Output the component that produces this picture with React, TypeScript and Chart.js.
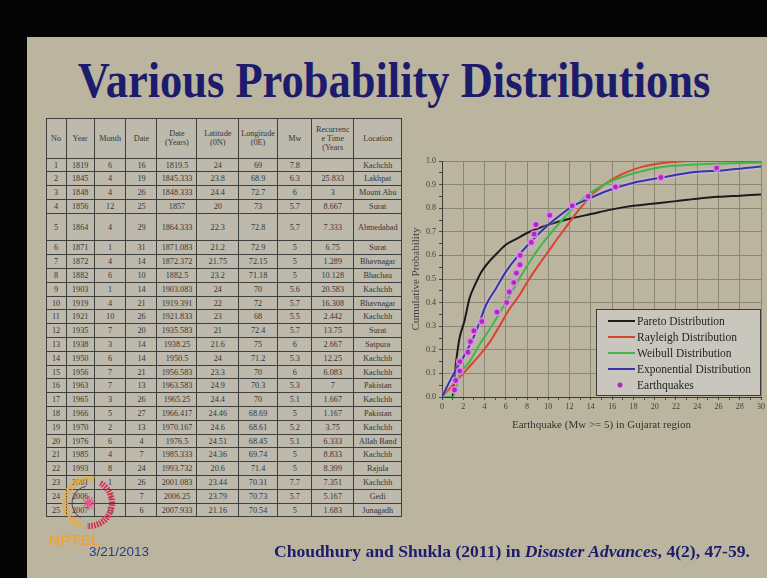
import React, { useEffect, useRef } from "react";
import { Chart, registerables } from "chart.js";

Chart.register(...registerables);

// ---------- chart data ----------
const paretoX = [1.0, 1.2, 1.4, 1.65, 2.1, 2.6, 3.05, 3.7, 4.45, 5.2, 6, 7, 8, 10, 12, 14, 16, 18, 20, 22, 24, 26, 28, 30];
const paretoY = [0.0, 0.1, 0.175, 0.25, 0.32, 0.42, 0.47, 0.53, 0.575, 0.61, 0.645, 0.67, 0.695, 0.73, 0.755, 0.775, 0.795, 0.81, 0.82, 0.83, 0.84, 0.848, 0.853, 0.858];

const rayleighX = [0, 1, 2, 2.9, 3.83, 4.6, 5.4, 6.3, 7.26, 8.2, 9.1, 10.06, 11, 11.9, 13, 14.4, 16.3, 18.8, 21.9, 24, 27, 30];
const rayleighY = [0.0, 0.05, 0.1, 0.145, 0.193, 0.24, 0.3, 0.37, 0.43, 0.5, 0.56, 0.62, 0.68, 0.735, 0.8, 0.87, 0.93, 0.975, 0.997, 1.0, 1.0, 1.0];

const weibullX = [0, 1.0, 1.65, 2.6, 3.5, 4.45, 5.4, 6.3, 7.26, 8.2, 9.1, 10.06, 11.3, 12.55, 13.8, 15.7, 18.2, 20.65, 23.8, 27, 30];
const weibullY = [0.0, 0.0, 0.094, 0.15, 0.22, 0.285, 0.355, 0.425, 0.5, 0.57, 0.63, 0.685, 0.75, 0.81, 0.86, 0.91, 0.95, 0.975, 0.985, 0.99, 0.993];

const exponentialX = [0, 0.72, 1.5, 2.27, 3.2, 4.14, 5.08, 6, 6.95, 8.2, 9.44, 10.7, 12.2, 13.8, 15.7, 18.2, 20.65, 23.8, 26.3, 30];
const exponentialY = [0.0, 0.066, 0.13, 0.19, 0.277, 0.39, 0.46, 0.53, 0.587, 0.65, 0.707, 0.756, 0.806, 0.84, 0.876, 0.91, 0.93, 0.953, 0.96, 0.977];

const quakeX = [1.17, 1.29, 1.67, 1.68, 2.44, 2.67, 3.0, 3.75, 5.17, 6.08, 6.33, 6.75, 7.0, 7.33, 7.35, 8.4, 8.67, 8.83, 10.13, 12.25, 13.75, 16.31, 20.58, 25.83];
const quakeY = [0.03, 0.07, 0.11, 0.15, 0.19, 0.235, 0.28, 0.32, 0.36, 0.4, 0.445, 0.485, 0.525, 0.56, 0.6, 0.655, 0.69, 0.73, 0.77, 0.81, 0.85, 0.89, 0.93, 0.97];

const seriesLabels = ["Pareto Distribution", "Rayleigh Distribution", "Weibull Distribution", "Exponential Distribution", "Earthquakes"];
const seriesColors = ["#1b1b1b", "#d8452f", "#3fb84a", "#3a33a6", "#a82cc0"];

// ---------- table data ----------
const tableHeaders = ["No", "Year", "Month", "Date", "Date\n(Years)", "Latitude\n(0N)", "Longitude\n(0E)", "Mw", "Recurrenc\ne Time\n(Years", "Location"];
const years = [1819, 1845, 1848, 1856, 1864, 1871, 1872, 1882, 1903, 1919, 1921, 1935, 1938, 1950, 1956, 1963, 1965, 1966, 1970, 1976, 1985, 1993, 2001, 2006, 2007];
const months = [6, 4, 4, 12, 4, 1, 4, 6, 1, 4, 10, 7, 3, 6, 7, 7, 3, 5, 2, 6, 4, 8, 1, 3, 11];
const days = [16, 19, 26, 25, 29, 31, 14, 10, 14, 21, 26, 20, 14, 14, 21, 13, 26, 27, 13, 4, 7, 24, 26, 7, 6];
const dateYears = ["1819.5", "1845.333", "1848.333", "1857", "1864.333", "1871.083", "1872.372", "1882.5", "1903.083", "1919.391", "1921.833", "1935.583", "1938.25", "1950.5", "1956.583", "1963.583", "1965.25", "1966.417", "1970.167", "1976.5", "1985.333", "1993.732", "2001.083", "2006.25", "2007.933"];
const latitudes = ["24", "23.8", "24.4", "20", "22.3", "21.2", "21.75", "23.2", "24", "22", "23", "21", "21.6", "24", "23.3", "24.9", "24.4", "24.46", "24.6", "24.51", "24.36", "20.6", "23.44", "23.79", "21.16"];
const longitudes = ["69", "68.9", "72.7", "73", "72.8", "72.9", "72.15", "71.18", "70", "72", "68", "72.4", "75", "71.2", "70", "70.3", "70", "68.69", "68.61", "68.45", "69.74", "71.4", "70.31", "70.73", "70.54"];
const magnitudes = ["7.8", "6.3", "6", "5.7", "5.7", "5", "5", "5", "5.6", "5.7", "5.5", "5.7", "6", "5.3", "6", "5.3", "5.1", "5", "5.2", "5.1", "5", "5", "7.7", "5.7", "5"];
const recurrence = ["", "25.833", "3", "8.667", "7.333", "6.75", "1.289", "10.128", "20.583", "16.308", "2.442", "13.75", "2.667", "12.25", "6.083", "7", "1.667", "1.167", "3.75", "6.333", "8.833", "8.399", "7.351", "5.167", "1.683"];
const locations = ["Kachchh", "Lakhpat", "Mount Abu", "Surat", "Ahmedabad", "Surat", "Bhavnagar", "Bhachau", "Kachchh", "Bhavnagar", "Kachchh", "Surat", "Satpura", "Kachchh", "Kachchh", "Pakistan", "Kachchh", "Pakistan", "Kachchh", "Allah Band", "Kachchh", "Rajula", "Kachchh", "Gedi", "Junagadh"];

const colWidths = [20, 28.3, 31.7, 31, 40, 41.6, 39, 34.4, 41.6, 48.4];

const GRID = "#8c8679";
const SERIF = '"Liberation Serif", "Times New Roman", serif';

const boxLegend = {
  id: "boxLegend",
  beforeDatasetDraw(chart: any, args: any) {
    if (args.index === 3) {
      chart.ctx.save();
      chart.ctx.shadowColor = "rgba(215,205,255,0.95)";
      chart.ctx.shadowBlur = 3;
    }
  },
  afterDatasetDraw(chart: any, args: any) {
    if (args.index === 3) chart.ctx.restore();
  },
  afterDatasetsDraw(chart: any) {
    const { ctx, chartArea } = chart;
    const w = 165;
    const h = 87;
    const x = chartArea.right - w;
    const y = chartArea.bottom - h - 1;
    ctx.save();
    ctx.fillStyle = "#c9c6bd";
    ctx.fillRect(x, y, w, h);
    ctx.strokeStyle = "#3a3a3a";
    ctx.lineWidth = 1;
    ctx.strokeRect(x + 0.5, y + 0.5, w - 1, h - 1);
    ctx.font = "11.5px " + SERIF;
    ctx.textBaseline = "middle";
    chart.data.datasets.forEach((ds: any, i: number) => {
      const cy = y + 12 + i * 16;
      if (ds.showLine === false) {
        ctx.beginPath();
        ctx.arc(x + 24, cy, 2.5, 0, Math.PI * 2);
        ctx.fillStyle = ds.pointBackgroundColor;
        ctx.fill();
      } else {
        ctx.beginPath();
        ctx.moveTo(x + 12, cy);
        ctx.lineTo(x + 39, cy);
        ctx.strokeStyle = ds.borderColor;
        ctx.lineWidth = 2;
        ctx.stroke();
      }
      ctx.fillStyle = "#242424";
      ctx.fillText(ds.label, x + 41, cy + 0.5);
    });
    ctx.restore();
  },
};

function ProbChart() {
  const ref = useRef<HTMLCanvasElement>(null);
  useEffect(() => {
    const pts = (xs: number[], ys: number[]) => xs.map((x, i) => ({ x, y: ys[i] }));
    const lineDs = (i: number, xs: number[], ys: number[], order: number) => ({
      label: seriesLabels[i],
      data: pts(xs, ys),
      borderColor: seriesColors[i],
      backgroundColor: seriesColors[i],
      borderWidth: 2,
      pointRadius: 0,
      cubicInterpolationMode: "monotone",
      order,
    });
    const chart = new Chart(ref.current as HTMLCanvasElement, {
      type: "line",
      data: {
        datasets: [
          lineDs(0, paretoX, paretoY, 4),
          lineDs(1, rayleighX, rayleighY, 3),
          lineDs(2, weibullX, weibullY, 2),
          lineDs(3, exponentialX, exponentialY, 1),
          {
            label: seriesLabels[4],
            data: pts(quakeX, quakeY),
            showLine: false,
            pointRadius: 3.2,
            pointBackgroundColor: seriesColors[4],
            pointBorderColor: "rgba(232,140,236,0.85)",
            pointBorderWidth: 1.6,
            order: 0,
          } as any,
        ],
      },
      options: {
        responsive: false,
        animation: false,
        layout: { padding: { top: 11, right: 4, left: 0, bottom: 0 } },
        plugins: { legend: { display: false }, tooltip: { enabled: false } },
        scales: {
          x: {
            type: "linear",
            min: 0,
            max: 30,
            afterFit: (s: any) => {
              s.height = 35;
            },
            ticks: {
              stepSize: 1,
              autoSkip: false,
              maxRotation: 0,
              padding: 2,
              color: "#3c3c3c",
              font: { family: SERIF, size: 8 },
              callback: (v: any) => (Math.round(Number(v)) % 2 === 0 ? String(v) : ""),
            },
            grid: {
              color: (c: any) => (c.tick && Math.round(c.tick.value) % 2 === 0 ? GRID : "rgba(0,0,0,0)"),
              tickColor: "#4a4a4a",
              tickLength: 3,
            },
            border: { color: "#3a3a3a", width: 1 },
            title: {
              display: true,
              text: "Earthquake (Mw >= 5) in Gujarat region",
              color: "#333",
              font: { family: SERIF, size: 11 },
              padding: { top: 4, bottom: 0 },
            },
          },
          y: {
            type: "linear",
            min: 0,
            max: 1,
            afterFit: (s: any) => {
              s.width = 42;
            },
            ticks: {
              stepSize: 0.05,
              autoSkip: false,
              padding: 3,
              color: "#3c3c3c",
              font: { family: SERIF, size: 8 },
              callback: (v: any) => (Math.round(Number(v) * 100) % 10 === 0 ? Number(v).toFixed(1) : ""),
            },
            grid: {
              color: (c: any) => (c.tick && Math.round(c.tick.value * 100) % 10 === 0 ? GRID : "rgba(0,0,0,0)"),
              tickColor: "#4a4a4a",
              tickLength: 3,
            },
            border: { color: "#3a3a3a", width: 1 },
            title: {
              display: true,
              text: "Cumulative Probability",
              color: "#444",
              font: { family: SERIF, size: 11 },
              padding: { top: 10, bottom: 0 },
            },
          },
        },
      } as any,
      plugins: [boxLegend],
    });
    return () => chart.destroy();
  }, []);
  return (
    <canvas
      ref={ref}
      width={367}
      height={282}
      style={{ position: "absolute", left: 400, top: 150, width: 367, height: 282 }}
    />
  );
}

function DataTable() {
  const cell: React.CSSProperties = {
    border: "1px solid #3e3e3a",
    padding: 0,
    textAlign: "center",
    verticalAlign: "middle",
    lineHeight: "9px",
    overflow: "hidden",
    whiteSpace: "nowrap",
  };
  return (
    <table
      style={{
        position: "absolute",
        left: 45.5,
        top: 118,
        width: 356,
        borderCollapse: "collapse",
        tableLayout: "fixed",
        fontFamily: SERIF,
        fontSize: 8.2,
        color: "#363634",
        background: "#bdb9ac",
      }}
    >
      <colgroup>
        {colWidths.map((w, i) => (
          <col key={i} style={{ width: w }} />
        ))}
      </colgroup>
      <tbody>
        <tr style={{ height: 39.7 }}>
          {tableHeaders.map((h, i) => (
            <td key={i} style={cell}>
              {h.split("\n").map((l, j) => (
                <div key={j}>{l}</div>
              ))}
            </td>
          ))}
        </tr>
        {years.map((yr, i) => (
          <tr key={i} style={{ height: i === 4 ? 27.6 : 13.8 }}>
            <td style={cell}>{i + 1}</td>
            <td style={cell}>{yr}</td>
            <td style={cell}>{months[i]}</td>
            <td style={cell}>{days[i]}</td>
            <td style={cell}>{dateYears[i]}</td>
            <td style={cell}>{latitudes[i]}</td>
            <td style={cell}>{longitudes[i]}</td>
            <td style={cell}>{magnitudes[i]}</td>
            <td style={cell}>{recurrence[i]}</td>
            <td style={cell}>{locations[i]}</td>
          </tr>
        ))}
      </tbody>
    </table>
  );
}

function Logo() {
  const cx = 89;
  const cy = 503;
  const r = 24;
  const arc = (a0: number, a1: number, rr: number) => {
    const p0 = [cx + rr * Math.cos((a0 * Math.PI) / 180), cy + rr * Math.sin((a0 * Math.PI) / 180)];
    const p1 = [cx + rr * Math.cos((a1 * Math.PI) / 180), cy + rr * Math.sin((a1 * Math.PI) / 180)];
    const large = a1 - a0 > 180 ? 1 : 0;
    return `M${p0[0]} ${p0[1]} A${rr} ${rr} 0 ${large} 1 ${p1[0]} ${p1[1]}`;
  };
  return (
    <svg width={767} height={578} style={{ position: "absolute", left: 0, top: 0, pointerEvents: "none" }}>
      <path d={arc(110, 285, r)} stroke="#e9a93c" strokeWidth={6} fill="none" strokeDasharray="1.6 1.2" />
      <path d={arc(-60, 95, r - 1)} stroke="#d6294f" strokeWidth={6} fill="none" strokeDasharray="1.6 1.2" />
      <path d={arc(120, 260, r - 7)} stroke="#5a3a3a" strokeWidth={1} fill="none" />
      {[0, 30, 60, 90, 120, 150].map((a) => (
        <line
          key={a}
          x1={cx - 7 * Math.cos((a * Math.PI) / 180)}
          y1={cy - 7 * Math.sin((a * Math.PI) / 180)}
          x2={cx + 7 * Math.cos((a * Math.PI) / 180)}
          y2={cy + 7 * Math.sin((a * Math.PI) / 180)}
          stroke="#e0407a"
          strokeWidth={1}
        />
      ))}
      <circle cx={cx} cy={cy} r={2.5} fill="#f05090" />
    </svg>
  );
}

export default function App() {
  return (
    <div style={{ position: "absolute", left: 0, top: 0, width: 767, height: 578, background: "#050505", overflow: "hidden" }}>
      <div style={{ position: "absolute", left: 27, top: 37, width: 740, height: 541, background: "#bbb5a0" }} />
      <div
        style={{
          position: "absolute",
          left: 394,
          top: 55,
          fontFamily: SERIF,
          fontWeight: "bold",
          fontSize: 51,
          lineHeight: 1,
          color: "#1d1c6c",
          whiteSpace: "nowrap",
          transform: "translateX(-50%) scaleX(0.872)",
        }}
      >
        Various Probability Distributions
      </div>
      <DataTable />
      <ProbChart />
      <Logo />
      <div
        style={{
          position: "absolute",
          left: 49,
          top: 532,
          fontFamily: '"Liberation Sans", Arial, sans-serif',
          fontWeight: "bold",
          fontSize: 15,
          lineHeight: 1,
          color: "#eea23a",
          letterSpacing: 0.5,
        }}
      >
        NPTEL
      </div>
      <div
        style={{
          position: "absolute",
          left: 89,
          top: 545,
          fontFamily: '"Liberation Sans", Arial, sans-serif',
          fontSize: 13.5,
          lineHeight: 1,
          color: "#2c3a86",
        }}
      >
        3/21/2013
      </div>
      <div
        style={{
          position: "absolute",
          left: 274,
          top: 543,
          fontFamily: SERIF,
          fontWeight: "bold",
          fontSize: 17.6,
          lineHeight: 1,
          color: "#1d1c6c",
          whiteSpace: "nowrap",
        }}
      >
        Choudhury and Shukla (2011) in <i>Disaster Advances</i>, 4(2), 47-59.
      </div>
    </div>
  );
}
